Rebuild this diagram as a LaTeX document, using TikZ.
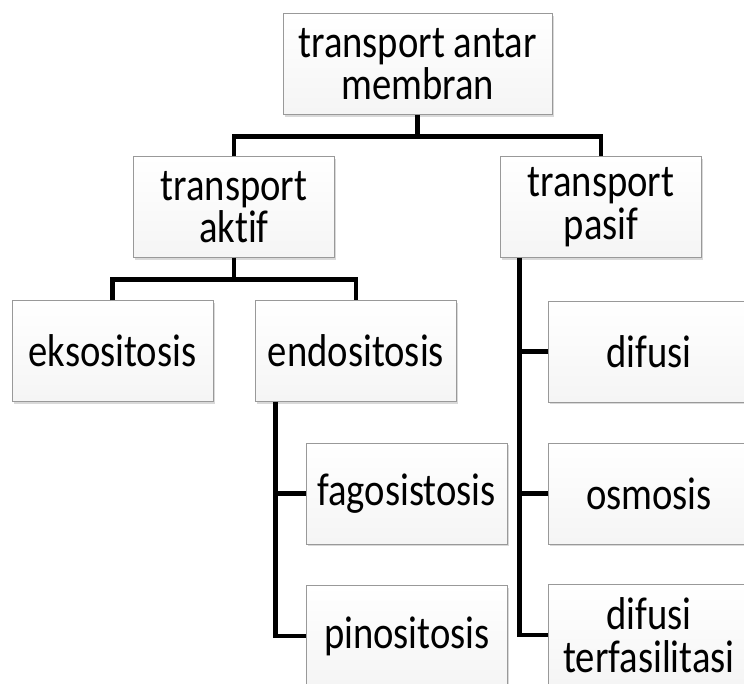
\documentclass[tikz,border=0pt]{standalone}
\usepackage{fontspec}
\setmainfont{Carlito}[Ligatures=NoCommon, FakeStretch=0.84]
\usetikzlibrary{shadows}
\tikzstyle{konsep}=[rectangle, draw=black!40, top color=white, bottom color=black!4,
  drop shadow={shadow xshift=1.5pt, shadow yshift=-2pt, opacity=0.3},
  align=center, inner sep=0pt, minimum width=201pt, minimum height=101pt,
  font=\fontsize{46}{42.5}\selectfont]
\tikzstyle{link}=[line width=4.5pt, black]
\newcommand{\konsep}{\node[konsep]}

\begin{document}
\begin{tikzpicture}[x=1pt, y=-1pt]
\useasboundingbox (0,0) rectangle (744,683);
\konsep[minimum width=269pt] (top) at (417.5,64) {transport antar\\membran};
\konsep (aktif) at (234,207) {transport\\aktif};
\konsep (pasif) at (601,207) {transport\\pasif};
\konsep (ekso) at (112.5,351) {eksositosis};
\konsep (endo) at (356,351) {endositosis};
\konsep (fago) at (406.5,493.5) {fagosistosis};
\konsep (pino) at (407,636) {pinositosis};
\konsep (difusi) at (649,351.5) {difusi};
\konsep (osmo) at (649,493.5) {osmosis};
\konsep (difter) at (649,635) {difusi\\terfasilitasi};
% connectors
\draw[link] (top.south) -- ++(0,22);
\draw[link] (aktif.north) -- ++(0,-20) -| (pasif.north);
\draw[link] (aktif.south) -- ++(0,23);
\draw[link] (ekso.north) -- ++(0,-21) -| (endo.north);
\draw[link] ([xshift=20pt]endo.south west) |- (pino.west);
\draw[link] (fago.west) -- +(-30,0);
\draw[link] ([xshift=19pt]pasif.south west) |- (difter.west);
\draw[link] (difusi.west) -- +(-30,0);
\draw[link] (osmo.west) -- +(-30,0);
\end{tikzpicture}
\end{document}
